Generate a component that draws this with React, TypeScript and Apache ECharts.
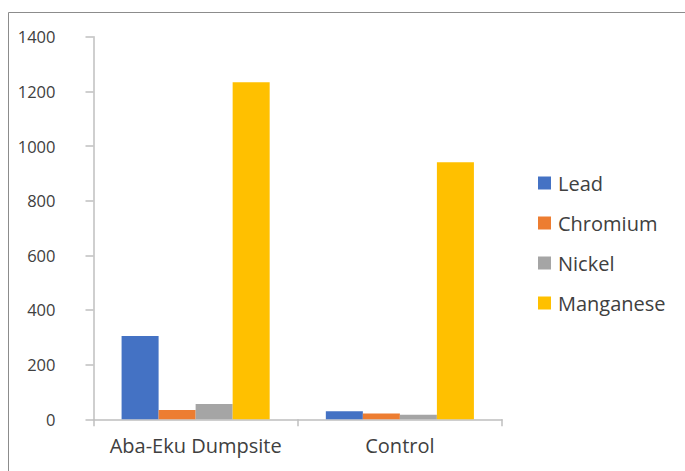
import React, { useEffect, useRef } from "react";
import * as echarts from "echarts";

const categories = ["Aba-Eku Dumpsite", "Control"];
const lead = [305, 29];
const chromium = [34, 21];
const nickel = [56, 17];
const manganese = [1233, 941];
const seriesNames = ["Lead", "Chromium", "Nickel", "Manganese"];
const seriesColors = ["#4472C4", "#ED7D31", "#A5A5A5", "#FFC000"];

export default function App() {
  const ref = useRef<HTMLDivElement>(null);
  useEffect(() => {
    if (!ref.current) return;
    const chart = echarts.init(ref.current, null, { renderer: "svg" });
    const values = [lead, chromium, nickel, manganese];
    const font = "'Open Sans', sans-serif";
    chart.setOption({
      animation: false,
      backgroundColor: "#ffffff",
      textStyle: { fontFamily: font },
      graphic: [
        {
          type: "rect",
          shape: { x: 8.5, y: 12.5, width: 700, height: 500 },
          style: { fill: "none", stroke: "#8c8c8c", lineWidth: 1 },
          silent: true,
        },
      ],
      grid: { left: 93.5, right: 183, top: 36.7, bottom: 51.7, containLabel: false },
      legend: {
        orient: "vertical",
        left: 538,
        top: 172,
        padding: 0,
        itemWidth: 13,
        itemHeight: 13,
        itemGap: 18,
        icon: "rect",
        data: seriesNames,
        textStyle: {
          fontFamily: font,
          fontSize: 20,
          color: "#404040",
          lineHeight: 22,
          padding: [0, 0, 0, 2],
        },
      },
      xAxis: {
        type: "category",
        data: categories,
        axisLine: { lineStyle: { color: "#bfbfbf", width: 1.5 } },
        axisTick: { show: true, length: 7, alignWithLabel: false, lineStyle: { color: "#bfbfbf", width: 1.5 } },
        axisLabel: { fontSize: 20, color: "#404040", margin: 16, fontFamily: font, interval: 0 },
        splitLine: { show: false },
      },
      yAxis: {
        type: "value",
        min: 0,
        max: 1400,
        interval: 200,
        axisLine: { show: true, lineStyle: { color: "#bfbfbf", width: 1.5 } },
        axisTick: { show: true, length: 8, lineStyle: { color: "#bfbfbf", width: 1.5 } },
        axisLabel: {
          fontSize: 16.5,
          color: "#404040",
          margin: 38,
          fontFamily: font,
          formatter: (v: number) => String(v),
        },
        splitLine: { show: false },
      },
      series: seriesNames.map((name, i) => ({
        name,
        type: "bar",
        data: values[i],
        barGap: "0%",
        barCategoryGap: "27.5%",
        itemStyle: { color: seriesColors[i] },
      })),
    });
    return () => chart.dispose();
  }, []);
  return (
    <div
      ref={ref}
      style={{ position: "fixed", left: 0, top: 0, width: 685, height: 471 }}
    />
  );
}
